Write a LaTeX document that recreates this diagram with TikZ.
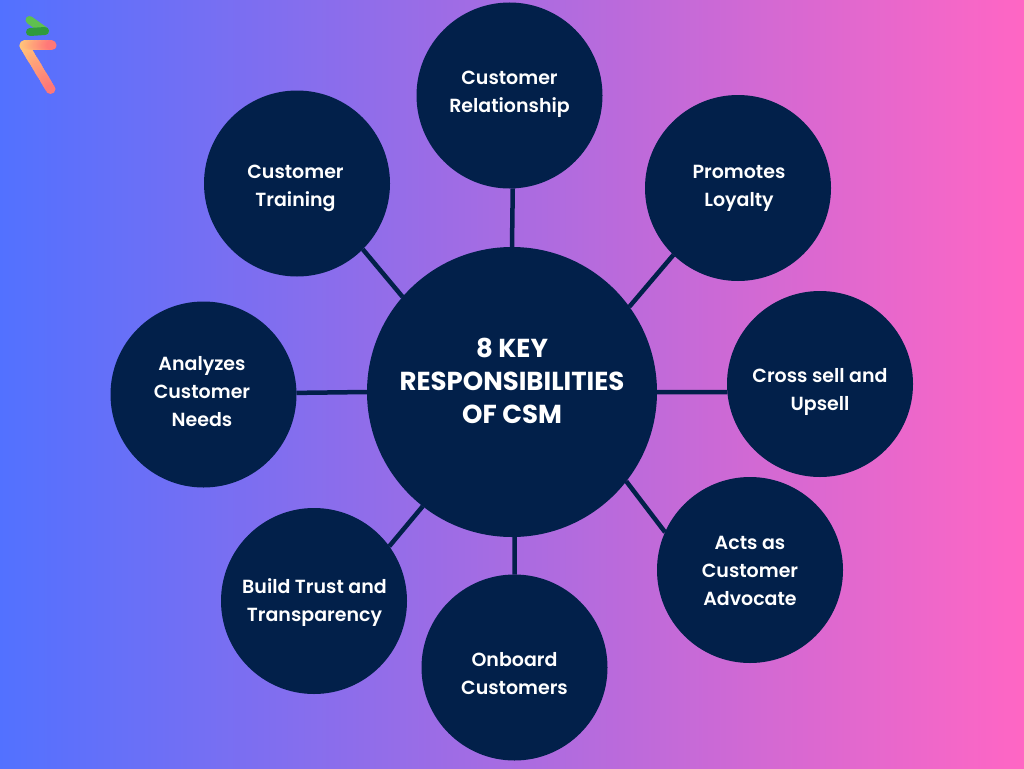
\documentclass[tikz,border=0pt]{standalone}
\usepackage{fontspec}
\setmainfont{Poppins}[BoldFont=Poppins SemiBold]
\newfontfamily\hubfont{Poppins Bold}
\definecolor{navy}{HTML}{02204A}
\definecolor{bgl}{HTML}{5271FF}
\definecolor{bgr}{HTML}{FF66C4}
\definecolor{lgA}{HTML}{FFC57A}
\definecolor{lgB}{HTML}{FF7878}
\definecolor{grA}{HTML}{5FC050}
\definecolor{grB}{HTML}{2F9A3E}
\tikzset{
  x=1pt,y=-1pt,
  topic/.style={circle,fill=navy,minimum size=186pt,inner sep=0pt,outer sep=0pt},
  hub/.style={circle,fill=navy,minimum size=290pt,inner sep=0pt,outer sep=0pt},
  topictext/.style={text=white,inner sep=0pt,align=center,font=\fontsize{19}{28}\selectfont\bfseries},
  hubtext/.style={text=white,inner sep=0pt,align=center,font=\fontsize{26}{33}\selectfont\hubfont},
  link/.style={draw=navy,line width=4.5pt},
  logostroke/.style={line width=10pt,line cap=round}
}
\begin{document}
\begin{tikzpicture}
\useasboundingbox (0,0) rectangle (1024,768);
\shade[left color=bgl,right color=bgr] (0,0) rectangle (1024,768);
% logo
\foreach \t in {0,5,...,100}{
  \pgfmathsetmacro\xb{24.5+0.26*\t}
  \pgfmathsetmacro\yb{46+0.43*\t}
  \draw[logostroke,color=lgB!\t!lgA] (\xb,\yb) -- (\xb+0.01,\yb);
}
\foreach \t in {0,5,...,100}{
  \pgfmathsetmacro\xa{24.5+0.27*\t}
  \draw[logostroke,color=lgB!\t!lgA] (\xa,45.5) -- (\xa+0.01,45.5);
}
\draw[line width=8pt,line cap=round,color=grA] (29.5,20) -- (45,31);
\draw[line width=8pt,line cap=round,color=grB] (45,31) -- (30,32);
% nodes
\node[hub] (center) at (512,392) {};
\node[topic] (relationship) at (509.5,95.5) {};
\node[topic] (loyalty) at (738,188) {};
\node[topic] (upsell) at (820,384) {};
\node[topic] (advocate) at (750,570) {};
\node[topic] (onboard) at (514.5,667.5) {};
\node[topic] (trust) at (314,601) {};
\node[topic] (needs) at (203.5,394.5) {};
\node[topic] (training) at (297,183.5) {};
% texts
\node[hubtext] (centertext) at (512,381) {8 KEY\\RESPONSIBILITIES\\OF CSM};
\node[topictext] (relationshiptext) at (509.5,94) {Customer\\Relationship};
\node[topictext] (loyaltytext) at (739,188) {Promotes\\Loyalty};
\node[topictext] (upselltext) at (820,392) {Cross sell and\\Upsell};
\node[topictext] (advocatetext) at (750,571) {Acts as\\Customer\\Advocate};
\node[topictext] (onboardtext) at (514.5,674) {Onboard\\Customers};
\node[topictext] (trusttext) at (314.5,603) {Build Trust and\\Transparency};
\node[topictext] (needstext) at (202,392) {Analyzes\\Customer\\Needs};
\node[topictext] (trainingtext) at (295.5,188) {Customer\\Training};
% connectors
\draw[link] (center.north) -- (relationship.-88.5);
\draw[link] (center.36.9) -- (loyalty.-134);
\draw[link] (center.east) -- (upsell.185);
\draw[link] (center.-38.3) -- (advocate.156);
\draw[link] (center.-89) -- (onboard.north);
\draw[link] (center.232.9) -- (trust.36.4);
\draw[link] (center.west) -- (needs.1.5);
\draw[link] (center.139.5) -- (training.-45);
\end{tikzpicture}
\end{document}
